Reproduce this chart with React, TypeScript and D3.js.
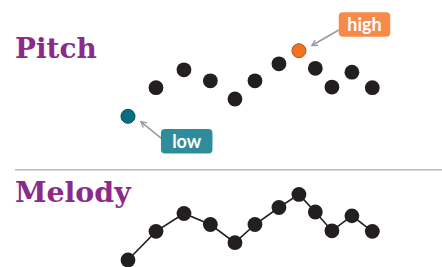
// Pitch vs Melody: the same twelve notes, first as loose dots, then joined
// into a contour. x = note onset (beats), y = pitch (semitones above lowest).
import { useEffect, useRef } from "react";
import * as d3 from "d3";

const onsets = [0, 1.4, 2.8, 4.12, 5.35, 6.35, 7.55, 8.55, 9.37, 10.2, 11.2, 12.22];
const pitches = [0, 4.8, 7.8, 5.95, 2.9, 5.95, 8.8, 11, 8.05, 4.9, 7.4, 4.8];
const panelTitles = ["Pitch", "Melody"];
const calloutLabels = ["low", "high"];

const W = 442;
const H = 267;
const INK = "#231f20";
const PURPLE = "#8c2a8c";

export default function App() {
  const ref = useRef<SVGSVGElement>(null);

  useEffect(() => {
    const svg = d3.select(ref.current);
    svg.selectAll("*").remove();

    const x = d3.scaleLinear().domain([0, d3.max(onsets)!]).range([128, 372.3]);
    const panelShift = 143.7;
    const y = d3.scaleLinear().domain([0, 11]).range([116.3, 50.7]);
    const notes = onsets.map((t, i) => ({ t, p: pitches[i] }));
    const lo = d3.minIndex(pitches);
    const hi = d3.maxIndex(pitches);

    const defs = svg.append("defs");
    defs
      .append("marker")
      .attr("id", "chev")
      .attr("viewBox", "0 0 8 8")
      .attr("refX", 6.5)
      .attr("refY", 4)
      .attr("markerWidth", 8)
      .attr("markerHeight", 8)
      .attr("markerUnits", "userSpaceOnUse")
      .attr("orient", "auto")
      .append("path")
      .attr("d", "M1,1 L6.5,4 L1,7")
      .attr("fill", "none")
      .attr("stroke", "#9a9a9e")
      .attr("stroke-width", 1.4);

    // titles
    const titleY = [57.5, 202.3];
    const titleW = [81.7, 115.7];
    panelTitles.forEach((t, i) => {
      svg
        .append("text")
        .attr("x", 15)
        .attr("y", titleY[i])
        .attr("fill", PURPLE)
        .attr("font-family", "'DejaVu Serif', serif")
        .attr("font-weight", 700)
        .attr("font-size", 28)
        .attr("textLength", titleW[i])
        .attr("lengthAdjust", "spacingAndGlyphs")
        .text(t);
    });

    // divider
    svg
      .append("line")
      .attr("x1", 15)
      .attr("x2", W)
      .attr("y1", 169.8)
      .attr("y2", 169.8)
      .attr("stroke", "#b9b8bc")
      .attr("stroke-width", 1.5);

    // pitch panel: loose dots
    const top = svg.append("g");
    top
      .selectAll("circle")
      .data(notes)
      .join("circle")
      .attr("cx", (d) => x(d.t))
      .attr("cy", (d) => y(d.p))
      .attr("r", (_d, i) => (i === lo || i === hi ? 7 : 7.4))
      .attr("fill", (_d, i) => (i === lo ? "#046f82" : i === hi ? "#ef7421" : INK))
      .attr("stroke", (_d, i) => (i === lo ? "#0d4b57" : i === hi ? "#b3561a" : "none"))
      .attr("stroke-width", 1);

    // callouts
    const boxes = [
      { idx: lo, label: calloutLabels[0], cx: 186.7, cy: 141.3, fill: "#2f8c9b" },
      { idx: hi, label: calloutLabels[1], cx: 364.5, cy: 24.4, fill: "#f68a48" },
    ];
    boxes.forEach((b) => {
      const dx = x(onsets[b.idx]);
      const dy = y(pitches[b.idx]);
      const bw = 51.5;
      const bh = 24.5;
      // arrow from box edge toward the dot
      const ang = Math.atan2(dy - b.cy, dx - b.cx);
      const tipX = dx - Math.cos(ang) * 14;
      const tipY = dy - Math.sin(ang) * 14;
      const tailX = b.idx === hi ? b.cx - bw / 2 : b.cx - bw / 2 + 0.5;
      const tailY = b.idx === hi ? 30 : 138.3;
      svg
        .append("line")
        .attr("x1", tailX)
        .attr("y1", tailY)
        .attr("x2", tipX)
        .attr("y2", tipY)
        .attr("stroke", "#9a9a9e")
        .attr("stroke-width", 1.6)
        .attr("marker-end", "url(#chev)");
      svg
        .append("rect")
        .attr("x", b.cx - bw / 2)
        .attr("y", b.cy - bh / 2)
        .attr("width", bw)
        .attr("height", bh)
        .attr("rx", 4)
        .attr("fill", b.fill);
      svg
        .append("text")
        .attr("x", b.cx)
        .attr("y", b.cy)
        .attr("dy", "0.36em")
        .attr("text-anchor", "middle")
        .attr("fill", "#fff")
        .attr("font-family", "Lato, 'Open Sans', sans-serif")
        .attr("font-weight", 700)
        .attr("font-size", 18)
        .text(b.label);
    });

    // melody panel: joined contour
    const bottom = svg.append("g").attr("transform", `translate(0,${panelShift})`);
    const line = d3
      .line<{ t: number; p: number }>()
      .x((d) => x(d.t))
      .y((d) => y(d.p));
    bottom
      .append("path")
      .attr("d", line(notes))
      .attr("fill", "none")
      .attr("stroke", INK)
      .attr("stroke-width", 1.6);
    bottom
      .selectAll("circle")
      .data(notes)
      .join("circle")
      .attr("cx", (d) => x(d.t))
      .attr("cy", (d) => y(d.p))
      .attr("r", 7.4)
      .attr("fill", INK);
  }, []);

  return (
    <svg
      ref={ref}
      width={W}
      height={H}
      viewBox={`0 0 ${W} ${H}`}
      style={{ position: "absolute", left: 0, top: 0, background: "#fff" }}
    />
  );
}
